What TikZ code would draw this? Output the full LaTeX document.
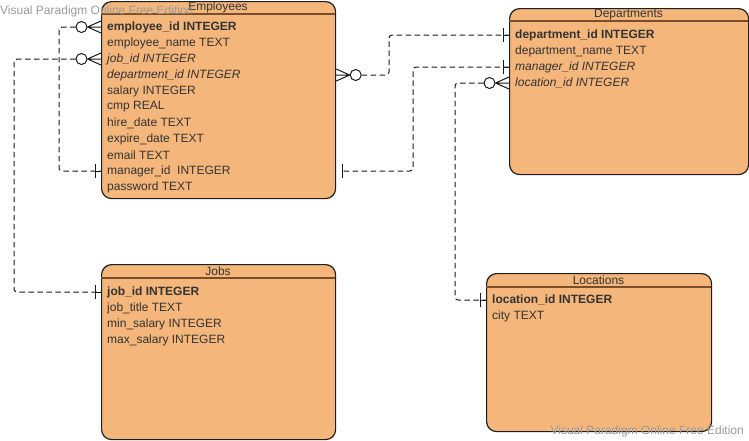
\documentclass[tikz,border=0pt]{standalone}
\usepackage{fontspec}
\setmainfont{Liberation Sans}
\definecolor{entfill}{HTML}{F4B67B}
\definecolor{entline}{HTML}{1E1E1E}
\definecolor{headline}{HTML}{7A4E2A}
\definecolor{txt}{HTML}{333333}
\definecolor{wm}{HTML}{9A9A9A}
\definecolor{lnk}{HTML}{1A1A1A}
\begin{document}
\begin{tikzpicture}[x=1pt,y=-1pt,
  entity/.style={draw=entline, fill=entfill, line width=1.2pt, rounded corners=10pt, anchor=north west, inner sep=0pt},
  headrule/.style={draw=headline, line width=1.1pt},
  ttl/.style={font=\fontsize{12}{14}\selectfont, text=txt, inner sep=0pt},
  row/.style={font=\fontsize{12}{14}\selectfont, text=txt, anchor=west, inner sep=0pt},
  conn/.style={draw=lnk, line width=1pt, dash pattern=on 5.5pt off 3.5pt, rounded corners=3pt},
  notation/.style={draw=lnk, line width=1pt},
  circ/.style={circle, draw=lnk, fill=white, minimum size=11pt, inner sep=0pt, line width=1pt},
  watermark/.style={font=\fontsize{12}{14}\selectfont, text=wm, inner sep=0pt}]
\useasboundingbox (0,0) rectangle (749,440);
\fill[white] (0,0) rectangle (749,440);

% ---------- entities ----------
\node[entity, minimum width=234pt, minimum height=197pt] (emp) at (101,1) {};
\node[entity, minimum width=239pt, minimum height=166pt] (dept) at (509,8) {};
\node[entity, minimum width=234pt, minimum height=175pt] (jobs) at (101,264) {};
\node[entity, minimum width=225pt, minimum height=158pt] (loc) at (486,273) {};

\draw[headrule] (101,14) -- (335,14);
\draw[headrule] (509,21) -- (748,21);
\draw[headrule] (101,278) -- (335,278);
\draw[headrule] (486,287) -- (711,287);

\node[ttl] (empt) at (218,7) {Employees};
\node[ttl] (deptt) at (628.5,15) {Departments};
\node[ttl] (jobst) at (218,271) {Jobs};
\node[ttl] (loct) at (598.5,280) {Locations};

% Employees rows
\node[row] (er1) at (107,27) {\textbf{employee\_id INTEGER}};
\node[row] (er2) at (107,43) {employee\_name TEXT};
\node[row] (er3) at (107,59) {\textit{job\_id INTEGER}};
\node[row] (er4) at (107,75) {\textit{department\_id INTEGER}};
\node[row] (er5) at (107,91) {salary INTEGER};
\node[row] (er6) at (107,107) {cmp REAL};
\node[row] (er7) at (107,123) {hire\_date TEXT};
\node[row] (er8) at (107,139) {expire\_date TEXT};
\node[row] (er9) at (107,155) {email TEXT};
\node[row] (er10) at (107,171) {manager\_id\ \ INTEGER};
\node[row] (er11) at (107,187) {password TEXT};

% Departments rows
\node[row] (dr1) at (515,35) {\textbf{department\_id INTEGER}};
\node[row] (dr2) at (515,51) {department\_name TEXT};
\node[row] (dr3) at (515,67) {\textit{manager\_id INTEGER}};
\node[row] (dr4) at (515,83) {\textit{location\_id INTEGER}};

% Jobs rows
\node[row] (jr1) at (107,292) {\textbf{job\_id INTEGER}};
\node[row] (jr2) at (107,308) {job\_title TEXT};
\node[row] (jr3) at (107,324) {min\_salary INTEGER};
\node[row] (jr4) at (107,340) {max\_salary INTEGER};

% Locations rows
\node[row] (lr1) at (492,300) {\textbf{location\_id INTEGER}};
\node[row] (lr2) at (492,316) {city TEXT};

% ---------- routing coordinates ----------
\coordinate (xa) at (59,0);
\coordinate (xb) at (14,0);
\coordinate (xc) at (389,0);
\coordinate (xd) at (413,0);
\coordinate (xe) at (455,0);

% endpoints on entity borders
\coordinate (e1) at (emp.west |- er1);
\coordinate (e3) at (emp.west |- er3);
\coordinate (e4) at (emp.east |- er4);
\coordinate (e10w) at (emp.west |- er10);
\coordinate (e10e) at (emp.east |- er10);
\coordinate (d1) at (dept.west |- dr1);
\coordinate (d3) at (dept.west |- dr3);
\coordinate (d4) at (dept.west |- dr4);
\coordinate (j1) at (jobs.west |- jr1);
\coordinate (l1) at (loc.west |- lr1);

% circles of zero-or-many ends
\node[circ] (c1) at ([xshift=-19.5pt]e1) {};
\node[circ] (c2) at ([xshift=-19.5pt]e3) {};
\node[circ] (c3) at ([xshift=19.5pt]e4) {};
\node[circ] (c5) at ([xshift=-19.5pt]d4) {};

% ---------- connectors ----------
\draw[conn] (c1.west) -| (xa |- e10w) -- (e10w);
\draw[conn] (c2.west) -| (xb |- j1) -- (j1);
\draw[conn] (c3.east) -| (xc |- d1) -- (d1);
\draw[conn] (d3) -| (xd |- e10e) -- ([xshift=6pt]e10e);
\draw[conn] (c5.west) -| (xe |- l1) -- (l1);

% crow's feet
\foreach \c/\e in {c1/e1, c2/e3, c5/d4}{
  \draw[notation] (\c.east) -- ([yshift=6pt]\e) (\c.east) -- (\e) (\c.east) -- ([yshift=-6pt]\e);
}
\draw[notation] (c3.west) -- ([yshift=6pt]e4) (c3.west) -- (e4) (c3.west) -- ([yshift=-6pt]e4);

% one bars
\draw[notation] ([xshift=-6pt,yshift=7pt]e10w) -- ([xshift=-6pt,yshift=-7pt]e10w) ([xshift=-6pt]e10w) -- (e10w);
\draw[notation] ([xshift=-6pt,yshift=7pt]j1) -- ([xshift=-6pt,yshift=-7pt]j1) ([xshift=-6pt]j1) -- (j1);
\draw[notation] ([xshift=-6pt,yshift=7pt]d1) -- ([xshift=-6pt,yshift=-7pt]d1) ([xshift=-6pt]d1) -- (d1);
\draw[notation] ([xshift=-6pt,yshift=7pt]d3) -- ([xshift=-6pt,yshift=-7pt]d3) ([xshift=-6pt]d3) -- (d3);
\draw[notation] ([xshift=-6pt,yshift=7pt]l1) -- ([xshift=-6pt,yshift=-7pt]l1) ([xshift=-6pt]l1) -- (l1);
\draw[notation] ([xshift=6pt,yshift=7pt]e10e) -- ([xshift=6pt,yshift=-7pt]e10e);

% ---------- watermarks ----------
\node[watermark, anchor=west] (wm1) at (0,11) {Visual Paradigm Online Free Edition};
\node[watermark, anchor=east] (wm2) at (744,431) {Visual Paradigm Online Free Edition};
\end{tikzpicture}
\end{document}
